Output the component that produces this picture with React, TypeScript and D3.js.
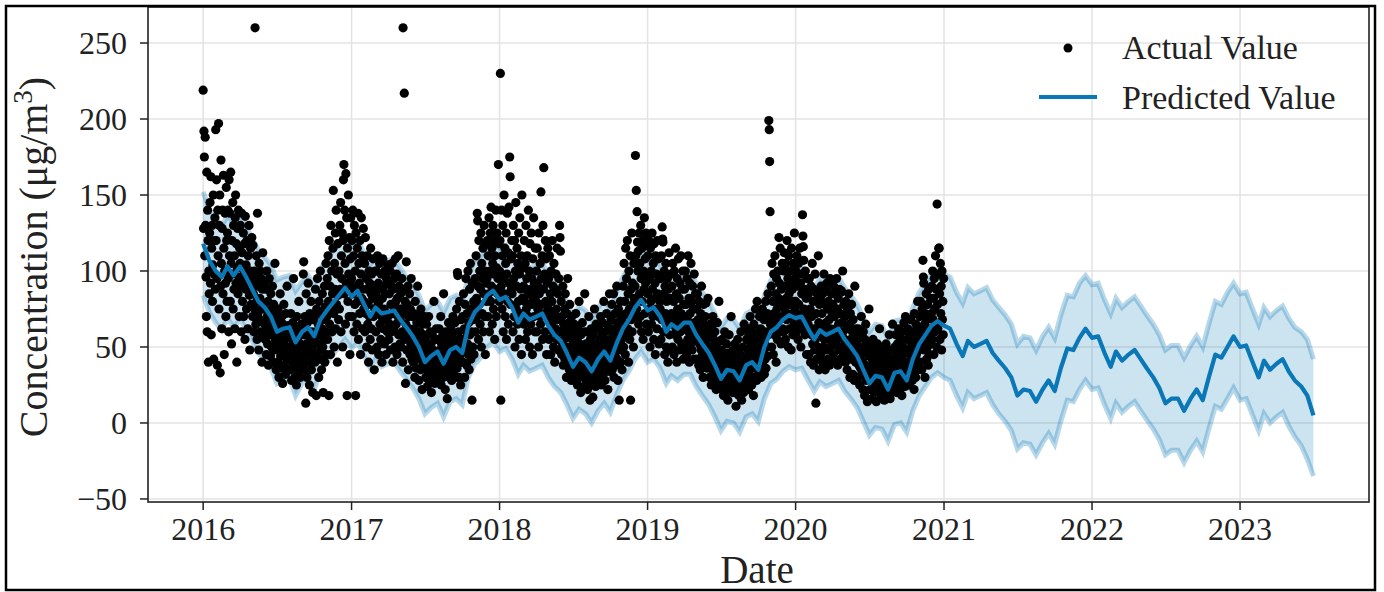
import * as React from "react";
import * as d3 from "d3";

// ---- data ----

// daily observations, one array per year, starting Jan 1
const actual2016 = [
  219,128,192,175,110,188,130,96,70,165,60,140,120,40,100,85,125,145,92,162,58,115,130,80,104,150,42,98,120,135,88,
  193,120,160,95,38,140,110,197,75,130,150,33,90,173,105,62,128,140,85,163,115,45,100,138,92,70,155,120,80,
  125,140,95,60,160,110,138,80,165,105,52,120,98,145,75,130,88,110,62,135,150,92,118,40,102,128,85,140,96,70,115,
  105,130,90,60,138,112,80,95,125,70,100,118,55,136,88,104,75,120,98,62,110,92,130,84,48,100,115,78,95,122,
  90,70,117,85,60,100,75,260,95,65,110,80,55,138,72,90,48,105,68,82,100,60,95,75,40,88,112,66,78,58,92,
  75,55,88,62,45,100,70,52,80,38,66,95,58,74,44,85,60,50,72,90,40,65,78,48,60,105,55,70,35,62,
  50,68,40,75,55,30,62,48,85,44,58,36,70,52,26,65,45,78,38,55,60,32,72,48,42,90,50,35,64,46,58,
  45,60,35,72,50,28,55,40,66,48,95,38,58,30,62,45,52,25,70,42,56,34,48,80,40,60,30,52,44,65,38,
  50,62,40,98,106,58,35,70,45,13,85,52,30,66,48,92,40,58,25,72,55,42,80,35,60,48,20,68,52,44,
  55,70,40,88,60,18,75,45,95,52,65,30,80,58,42,100,48,72,35,62,85,50,20,68,55,90,40,76,60,105,45,
  70,95,55,110,80,18,120,65,90,45,130,75,100,60,85,115,153,72,50,105,88,125,62,140,78,98,40,118,84,68,
  100,75,130,88,145,60,110,95,125,50,120,160,170,85,140,105,65,164,92,135,18,115,80,150,98,70,122,45,108,135,90,
];
const actual2017 = [
  95,120,70,140,85,110,60,130,78,100,18,125,90,65,115,80,138,55,105,92,72,120,45,98,135,82,110,62,88,128,75,
  80,105,60,122,72,95,50,88,110,65,78,40,100,70,92,55,115,85,62,98,48,82,108,70,90,35,75,100,
  85,60,100,72,50,110,78,92,45,80,105,65,88,55,98,70,40,82,108,62,90,75,52,100,68,85,45,95,72,60,104,
  70,92,55,85,65,100,48,78,90,60,105,72,40,88,62,95,75,50,108,80,65,98,45,82,70,110,58,90,75,52,
  68,85,50,75,95,60,40,260,72,88,217,55,80,26,65,106,48,78,58,90,35,70,62,85,45,75,52,95,60,42,70,
  55,40,72,48,62,30,80,45,58,36,66,50,90,42,55,28,70,48,60,35,75,44,52,22,65,48,38,58,45,70,
  40,55,30,48,65,35,24,50,42,70,28,45,38,60,32,52,20,44,58,36,48,30,80,40,26,55,38,46,62,34,42,
  45,30,55,38,62,28,48,40,70,25,52,35,44,58,30,85,42,36,50,22,60,40,32,48,16,55,38,66,44,30,50,
  50,35,62,44,28,58,40,70,32,55,46,38,66,30,52,42,75,36,99,97,48,60,30,80,44,55,25,68,40,52,
  55,70,40,85,50,62,30,78,48,95,60,38,72,52,100,45,66,35,88,58,105,42,75,60,15,92,50,68,80,45,70,
  75,95,60,110,82,70,138,133,90,55,120,78,100,65,88,125,50,105,72,95,115,60,85,130,70,100,45,118,92,80,
  95,120,70,110,85,135,60,100,125,80,142,90,115,65,105,130,75,98,120,55,110,88,140,70,102,125,85,95,170,118,80,
];
const actual2018 = [
  100,120,230,15,90,140,75,110,130,60,95,150,85,115,70,105,125,55,98,138,80,112,65,142,92,175,162,78,108,88,120,
  85,110,60,130,95,70,120,50,100,145,75,90,115,65,105,80,125,55,98,135,72,88,110,45,150,82,102,68,
  90,65,120,80,105,55,130,75,95,110,60,85,140,70,100,50,118,88,65,125,78,95,45,108,82,135,70,92,60,115,85,
  80,100,60,115,75,90,50,125,85,70,105,65,152,95,78,110,55,130,88,168,72,98,60,120,80,108,45,92,70,115,
  75,95,55,110,70,85,45,100,65,80,120,60,90,50,105,72,40,88,62,98,75,55,115,68,85,48,95,60,130,122,113,
  60,80,45,70,52,90,38,65,55,75,42,85,50,60,30,72,48,95,40,58,66,35,78,50,45,62,28,70,55,40,
  45,58,32,65,40,50,28,72,38,55,44,25,62,35,48,80,30,52,42,20,58,38,46,66,33,50,24,60,40,85,36,
  38,52,28,60,42,22,48,35,70,30,45,15,55,40,62,26,50,36,17,58,42,30,75,38,48,24,65,35,52,28,44,
  48,35,62,40,55,30,70,44,25,58,38,66,50,32,80,42,55,28,60,46,36,72,40,52,22,64,45,34,85,50,
  55,40,68,48,78,35,60,50,85,30,62,45,72,38,58,52,90,42,66,28,75,55,15,62,48,80,40,70,55,35,65,
  70,90,50,105,65,80,45,115,72,95,58,120,62,85,40,100,75,55,110,15,88,68,125,60,92,78,50,105,82,70,
  90,176,110,153,75,139,119,100,113,65,125,85,105,70,130,95,60,115,80,120,55,100,88,135,72,108,92,125,65,98,118,
];
const actual2019 = [
  85,110,60,120,75,95,50,115,80,100,65,125,88,70,105,55,118,82,92,45,110,75,98,62,120,85,70,108,52,95,80,
  75,95,55,110,68,129,121,119,60,85,100,45,90,72,105,50,80,65,95,40,88,70,112,58,82,48,98,66,
  72,90,50,105,65,80,45,100,70,58,115,62,85,40,95,75,55,108,68,82,48,92,60,110,72,52,88,65,100,42,78,
  70,88,50,100,62,78,45,95,68,55,110,60,82,40,92,72,52,105,65,80,48,90,58,75,42,98,66,55,85,62,
  60,75,42,85,55,68,38,80,52,62,35,72,48,90,58,44,66,30,78,50,60,40,70,54,79,45,64,36,56,82,48,
  45,58,30,65,40,50,25,62,38,48,70,32,55,42,28,60,36,46,22,52,40,66,30,48,35,80,42,26,54,38,
  35,48,22,55,30,40,18,45,32,60,25,38,42,20,52,30,36,15,46,28,58,34,24,44,30,70,26,40,32,20,48,
  30,45,20,52,28,38,11,42,34,25,55,30,40,18,48,26,36,22,60,32,15,44,28,50,35,20,65,30,42,25,38,
  42,55,28,62,38,48,22,58,35,45,70,30,52,40,25,60,36,48,18,65,42,55,30,75,38,50,28,80,45,35,
  45,60,35,70,50,40,62,30,55,45,75,38,58,48,68,32,52,42,80,36,60,50,72,44,85,58,199,193,172,139,65,
  70,90,50,105,62,80,45,98,72,58,110,65,85,40,95,75,55,100,68,82,122,92,60,115,78,52,88,70,105,62,
  80,100,60,112,75,90,55,105,82,68,120,72,95,50,110,85,62,100,78,92,48,115,70,88,58,105,80,65,125,75,95,
];
const actual2020 = [
  80,100,60,110,72,90,55,105,78,65,115,70,92,50,98,85,62,137,123,116,107,75,88,58,100,68,82,45,95,72,60,
  65,85,45,95,60,75,40,90,58,70,105,52,80,38,88,62,48,98,55,13,72,42,85,60,50,110,66,35,78,
  65,82,45,90,58,72,40,85,62,50,98,55,78,35,88,66,48,92,60,75,42,80,55,68,38,95,62,50,85,58,72,
  60,78,45,90,58,70,40,85,62,52,95,55,75,38,82,65,48,88,58,72,42,86,87,66,50,100,60,45,78,55,
  55,70,40,80,50,62,35,75,52,45,85,48,65,30,72,55,42,78,50,60,32,68,48,56,28,90,52,40,62,46,58,
  42,55,30,62,38,48,25,58,36,45,70,32,50,40,22,60,35,46,18,55,38,65,28,48,34,14,52,30,44,75,
  32,45,22,50,28,38,16,42,30,55,24,36,40,20,48,28,34,14,44,26,52,30,22,40,28,62,24,36,30,18,44,
  28,42,20,48,26,35,15,40,30,22,52,28,38,18,45,25,34,20,58,30,16,42,26,48,32,20,65,28,40,22,36,
  38,50,25,58,32,44,20,52,30,40,62,28,48,36,22,55,32,44,18,60,38,50,26,66,34,46,24,70,40,30,
  40,55,30,62,38,48,25,58,36,45,68,32,52,42,28,60,35,50,22,72,40,55,30,65,45,58,35,80,48,38,62,
  55,70,40,80,52,62,35,75,58,107,96,92,48,65,30,72,55,85,42,68,50,78,38,88,60,45,70,52,82,62,
  72,90,55,100,68,82,45,95,75,60,110,65,88,50,144,78,62,98,115,115,85,55,105,72,90,48,100,68,80,58,95,
];
const actualYears: [number, number[]][] = [
  [2016, actual2016],
  [2017, actual2017],
  [2018, actual2018],
  [2019, actual2019],
  [2020, actual2020],
];

// forecast, sampled on the 1st and 16th of each month, 2016-01 .. 2023-07
const yhat = [
  118,107,100,96,103,97,103,96,88,80,76,70,60,62,63,53,60,63,57,68,74,79,84,89,
  83,87,78,70,76,72,73,74,68,63,57,50,40,44,47,39,48,50,46,64,73,77,84,87,
  81,83,76,66,72,68,70,72,64,58,54,46,37,43,40,34,42,47,41,52,62,68,76,81,
  74,76,70,60,65,62,66,66,58,52,46,38,29,35,34,28,38,40,35,50,60,63,68,71,
  69,70,62,55,61,58,60,62,55,50,44,35,26,31,30,22,33,34,28,42,52,58,64,67,
  64,62,52,44,54,50,52,54,46,41,36,30,18,22,21,14,22,28,21,36,49,48,56,62,
  56,57,46,37,47,41,45,48,42,36,30,23,13,16,16,8,16,22,15,30,45,43,50,57,
  50,51,40,30,41,35,39,42,34,28,24,18,5,
];
const yhatUpper = [
  152,141,134,129,137,131,136,130,121,114,109,104,94,96,97,87,93,97,91,101,108,113,117,122,
  117,120,112,104,110,105,107,108,102,96,91,84,74,78,80,73,82,84,80,97,107,110,118,121,
  115,117,110,100,106,102,104,106,98,92,88,80,71,77,74,68,76,81,75,86,96,102,110,115,
  108,110,104,94,99,96,100,100,92,86,80,72,63,69,68,62,72,74,69,84,94,97,102,105,
  103,104,96,89,95,92,94,96,89,84,78,69,60,65,64,56,67,68,62,76,86,92,98,101,
  98,96,86,79,89,85,87,89,81,76,71,65,52,57,56,48,57,63,56,71,84,83,92,97,
  91,92,81,72,82,76,80,83,77,71,65,58,48,51,51,43,51,57,50,65,80,78,86,92,
  85,86,75,65,76,70,74,77,69,63,60,55,42,
];
const yhatLower = [
  84,73,66,61,69,63,68,62,54,46,41,36,26,28,29,18,26,29,22,34,40,45,50,55,
  49,53,44,36,42,37,39,40,34,29,23,16,6,10,13,4,14,16,12,30,39,43,50,53,
  47,49,42,32,38,34,36,38,30,24,20,12,3,9,6,0,8,13,7,18,28,34,42,47,
  40,42,36,26,31,28,32,32,24,18,12,4,-5,1,0,-6,4,6,1,16,26,29,34,37,
  35,36,28,21,27,24,26,28,21,16,10,1,-8,-3,-4,-12,-1,0,-6,8,18,24,30,33,
  30,28,18,10,20,16,18,20,12,6,1,-5,-17,-13,-14,-21,-13,-7,-14,1,15,14,22,28,
  22,23,12,3,13,7,11,14,8,2,-4,-11,-21,-18,-18,-26,-18,-12,-19,-4,11,9,16,23,
  15,16,5,-5,6,0,4,7,-2,-9,-15,-24,-35,
];

const yTicks = [-50, 0, 50, 100, 150, 200, 250];
const xTickYears = [2016, 2017, 2018, 2019, 2020, 2021, 2022, 2023];
const legendItems = ["Actual Value", "Predicted Value"];

const W = 1384;
const H = 592;
const PLOT = { left: 148, top: 7, right: 1369, bottom: 502 };
const FONT = "'Liberation Serif', 'Times New Roman', serif";
const LINE_BLUE = "#0a77b6";
const BAND_BLUE = "#0072B2";

function forecastDate(i: number) {
  const m = Math.floor((i % 24) / 2);
  return new Date(Date.UTC(2016 + Math.floor(i / 24), m, i % 2 ? 16 : 1));
}

export default function App() {
  const x = d3
    .scaleUtc()
    .domain([new Date(Date.UTC(2015, 7, 18)), new Date(Date.UTC(2023, 10, 15))])
    .range([PLOT.left, PLOT.right]);
  const y = d3.scaleLinear().domain([-52, 273.7]).range([PLOT.bottom, PLOT.top]);

  const points = actualYears.flatMap(([yr, vals]) =>
    vals.map((v, i) => ({ d: new Date(Date.UTC(yr, 0, 1 + i)), v })),
  );

  const fc = yhat.map((v, i) => ({
    d: forecastDate(i),
    v,
    lo: yhatLower[i],
    hi: yhatUpper[i],
  }));

  const line = d3
    .line<(typeof fc)[number]>()
    .x((p) => x(p.d))
    .y((p) => y(p.v));
  const area = d3
    .area<(typeof fc)[number]>()
    .x((p) => x(p.d))
    .y0((p) => y(p.lo))
    .y1((p) => y(p.hi));
  const upperLine = d3
    .line<(typeof fc)[number]>()
    .x((p) => x(p.d))
    .y((p) => y(p.hi));
  const lowerLine = d3
    .line<(typeof fc)[number]>()
    .x((p) => x(p.d))
    .y((p) => y(p.lo));

  return (
    <div>
      <style>{`body{margin:0;background:#fff}`}</style>
      <svg width={W} height={H} style={{ display: "block", fontFamily: FONT }}>
        <rect width={W} height={H} fill="#fff" />

        <defs>
          <clipPath id="plot-clip">
            <rect
              x={PLOT.left}
              y={PLOT.top}
              width={PLOT.right - PLOT.left}
              height={PLOT.bottom - PLOT.top}
            />
          </clipPath>
        </defs>

        {/* gridlines */}
        {yTicks.map((t) => (
          <line
            key={`yg-${t}`}
            x1={PLOT.left}
            x2={PLOT.right}
            y1={y(t)}
            y2={y(t)}
            stroke="#e3e3e3"
            strokeWidth={1.5}
          />
        ))}
        {xTickYears.map((yr) => {
          const px = x(new Date(Date.UTC(yr, 0, 1)));
          return (
            <line
              key={`xg-${yr}`}
              x1={px}
              x2={px}
              y1={PLOT.top}
              y2={PLOT.bottom}
              stroke="#e3e3e3"
              strokeWidth={1.5}
            />
          );
        })}

        <g clipPath="url(#plot-clip)">
          {/* uncertainty band, edges drawn like fill_between's outline */}
          <path d={area(fc) ?? ""} fill={BAND_BLUE} fillOpacity={0.2} />
          <path d={upperLine(fc) ?? ""} fill="none" stroke={BAND_BLUE} strokeOpacity={0.28} strokeWidth={5} />
          <path d={lowerLine(fc) ?? ""} fill="none" stroke={BAND_BLUE} strokeOpacity={0.28} strokeWidth={5} />

          {/* observations */}
          {points.map((p, i) => (
            <circle key={i} cx={x(p.d)} cy={y(p.v)} r={4.6} fill="#000" />
          ))}

          {/* prediction */}
          <path
            d={line(fc) ?? ""}
            fill="none"
            stroke={LINE_BLUE}
            strokeWidth={4.2}
            strokeLinejoin="round"
          />
        </g>

        {/* frame */}
        <rect
          x={PLOT.left}
          y={PLOT.top}
          width={PLOT.right - PLOT.left}
          height={PLOT.bottom - PLOT.top}
          fill="none"
          stroke="#222"
          strokeWidth={1.6}
        />

        {/* y axis */}
        {yTicks.map((t) => (
          <g key={`yt-${t}`}>
            <line x1={PLOT.left - 8} x2={PLOT.left} y1={y(t)} y2={y(t)} stroke="#222" strokeWidth={1.5} />
            <text
              x={PLOT.left - 21}
              y={y(t)}
              dy="0.35em"
              textAnchor="end"
              fontSize={32}
              fill="#222"
            >
              {t < 0 ? `\u2212${Math.abs(t)}` : t}
            </text>
          </g>
        ))}

        {/* x axis */}
        {xTickYears.map((yr) => {
          const px = x(new Date(Date.UTC(yr, 0, 1)));
          return (
            <g key={`xt-${yr}`}>
              <line x1={px} x2={px} y1={PLOT.bottom} y2={PLOT.bottom + 8} stroke="#222" strokeWidth={1.5} />
              <text x={px} y={540} textAnchor="middle" fontSize={32} fill="#222">
                {yr}
              </text>
            </g>
          );
        })}

        {/* axis titles */}
        <text x={757} y={583} textAnchor="middle" fontSize={39} fill="#222">
          Date
        </text>
        <text transform="translate(47,257) rotate(-90)" textAnchor="middle" fontSize={40} fill="#222">
          Concentration (μg/m
          <tspan fontSize={27} dy={-15}>
            3
          </tspan>
          <tspan dy={15}>)</tspan>
        </text>

        {/* legend */}
        <circle cx={1068} cy={48} r={4.5} fill="#000" />
        <text x={1122} y={59} fontSize={34} fill="#222">
          {legendItems[0]}
        </text>
        <line x1={1039} x2={1097} y1={97} y2={97} stroke={LINE_BLUE} strokeWidth={4} />
        <text x={1122} y={109} fontSize={34} fill="#222">
          {legendItems[1]}
        </text>

        {/* outer border of the figure */}
        <rect x={6} y={6} width={1369} height={584} fill="none" stroke="#000" strokeWidth={2.5} />
      </svg>
    </div>
  );
}
